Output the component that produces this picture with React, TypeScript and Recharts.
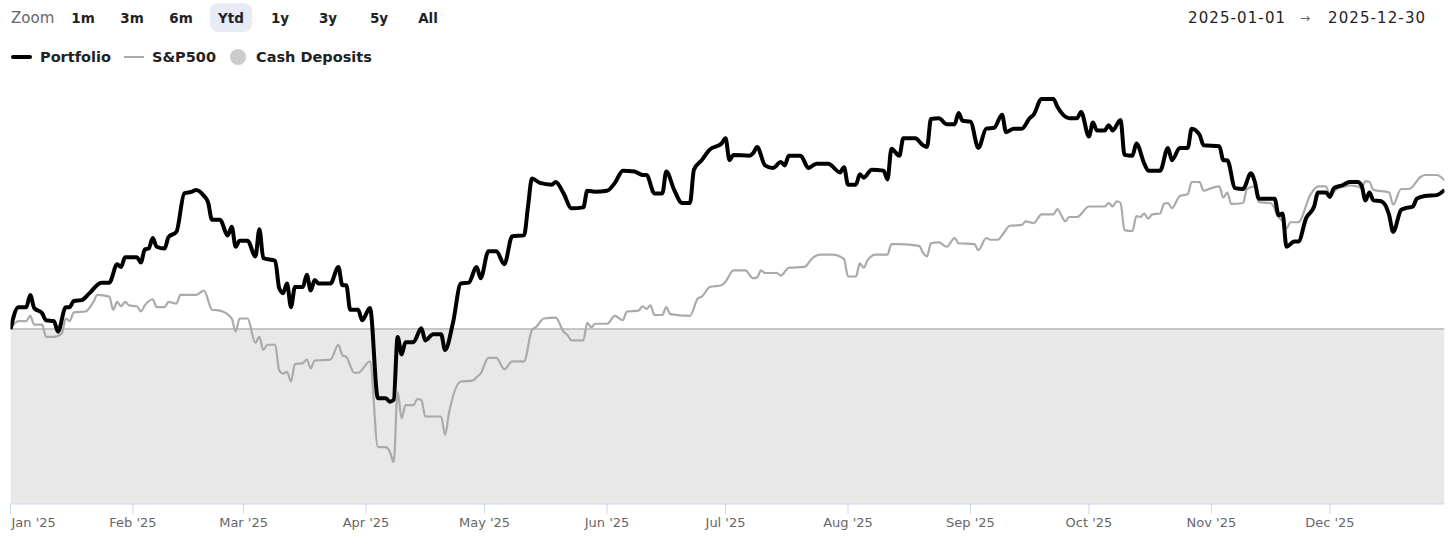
import React from "react";
import { Area, ComposedChart, Line, XAxis, YAxis } from "recharts";

// day of year (0 = Jan 1 2025) and cumulative return in %
const portfolioDays = [
  0, 2, 4, 5, 6, 8, 9, 11, 12, 14, 15, 16, 18, 20, 23, 25, 27, 28, 29, 32, 33, 34, 35, 36, 37, 39, 40, 42, 44, 46,
  47, 49, 50, 51, 53, 55, 56, 57, 58, 60, 62, 63, 64, 67, 68, 69, 70, 71, 72, 74, 75, 76, 77, 78, 81, 83, 84, 85, 86, 88,
  89, 91, 93, 95, 96, 97, 98, 99, 100, 102, 104, 105, 107, 109, 110, 112, 114, 116, 118, 119, 121, 123, 125, 127, 130, 131, 132, 134, 137, 138,
  140, 142, 145, 146, 148, 151, 153, 155, 158, 160, 161, 163, 165, 166, 168, 170, 172, 173, 175, 177, 180, 181, 182, 183, 187, 188, 189, 191, 193, 195,
  196, 197, 200, 202, 204, 207, 210, 211, 212, 214, 215, 216, 218, 221, 222, 223, 225, 226, 229, 231, 232, 233, 235, 237, 239, 240, 241, 243, 245, 247,
  249, 251, 252, 254, 256, 258, 259, 261, 264, 265, 268, 270, 271, 273, 274, 275, 277, 278, 279, 281, 282, 284, 285, 287, 288, 291, 293, 294, 296, 298,
  299, 301, 302, 306, 307, 308, 310, 312, 314, 315, 316, 320, 321, 322, 323, 325, 326, 328, 330, 331, 333, 334, 335, 337, 339, 341, 342, 343, 344, 345,
  347, 349, 350, 352, 353, 355, 356, 358, 361, 363,
];
const portfolioPct = [
  0.0, 2.5, 2.5, 3.9, 2.4, 1.8, 1.0, 0.9, -0.3, 2.5, 2.5, 3.2, 3.3, 4.1, 5.3, 5.3, 7.4, 7.1, 8.2, 8.2, 7.6, 9.1, 9.2, 10.4, 9.4, 9.2, 10.5, 11.1, 15.5, 15.7,
  15.9, 15.2, 14.5, 12.5, 12.5, 10.7, 11.7, 9.4, 10.1, 10.1, 8.3, 11.4, 8.1, 7.8, 4.7, 4.1, 5.2, 2.5, 4.8, 4.8, 6.2, 4.4, 5.6, 5.2, 5.2, 7.1, 5.0, 5.0, 2.2, 2.2,
  1.0, 2.4, -7.9, -7.9, -8.3, -8.1, -0.9, -2.9, -1.5, -1.5, 0.1, -1.3, -0.6, -0.6, -2.4, 0.7, 5.2, 5.3, 7.1, 5.8, 8.9, 8.9, 7.4, 10.6, 10.7, 14.0, 17.2, 16.7, 16.5, 16.8,
  15.5, 13.8, 13.9, 15.8, 15.7, 15.8, 16.7, 18.1, 18.0, 17.6, 17.6, 15.5, 15.5, 18.0, 15.9, 14.4, 14.4, 18.2, 19.3, 20.5, 21.2, 21.8, 19.3, 19.9, 19.8, 20.1, 20.8, 18.7, 18.4, 19.1,
  18.7, 19.8, 19.8, 18.4, 18.9, 18.9, 17.9, 18.5, 16.5, 16.5, 17.7, 17.3, 18.2, 18.1, 17.1, 20.6, 19.8, 21.8, 21.8, 21.0, 20.8, 24.0, 24.1, 23.4, 23.4, 24.7, 23.8, 23.7, 20.7, 22.9,
  23.0, 24.5, 22.5, 22.9, 22.9, 24.1, 24.5, 26.3, 26.3, 25.4, 24.1, 24.1, 24.8, 22.0, 23.6, 22.7, 22.7, 23.3, 22.7, 23.9, 19.9, 19.8, 21.2, 18.9, 18.1, 18.1, 20.7, 19.3, 20.7, 20.7,
  22.9, 22.2, 21.0, 20.9, 19.3, 19.3, 16.1, 16.0, 17.8, 16.8, 14.9, 14.9, 13.0, 13.2, 9.4, 10.0, 10.0, 12.7, 14.0, 15.6, 15.6, 15.1, 16.1, 16.4, 16.8, 16.8, 16.4, 14.7, 15.6, 14.7,
  14.6, 13.0, 11.1, 13.6, 13.8, 14.0, 14.9, 15.2, 15.3, 15.9,
];

const sp500Days = [
  0, 2, 4, 5, 6, 8, 9, 11, 13, 14, 15, 16, 19, 21, 22, 25, 26, 27, 28, 29, 30, 32, 33, 34, 36, 37, 39, 40, 42, 43,
  47, 49, 51, 53, 56, 57, 58, 60, 62, 63, 64, 65, 67, 68, 69, 70, 71, 72, 74, 75, 76, 77, 81, 83, 84, 85, 87, 88, 91, 93,
  95, 96, 97, 98, 99, 100, 102, 103, 104, 105, 109, 110, 111, 114, 117, 118, 119, 121, 123, 125, 127, 130, 132, 133, 135, 138, 140, 141, 142, 145,
  146, 147, 148, 151, 153, 155, 156, 159, 160, 161, 162, 163, 165, 166, 167, 172, 174, 175, 177, 180, 181, 183, 186, 188, 189, 190, 191, 194, 195, 197,
  201, 203, 205, 208, 211, 212, 214, 215, 216, 217, 219, 222, 223, 225, 230, 231, 232, 233, 235, 237, 239, 240, 244, 245, 247, 248, 250, 251, 253, 256,
  257, 259, 261, 264, 265, 266, 267, 268, 270, 273, 277, 278, 279, 280, 281, 282, 284, 285, 286, 287, 288, 289, 291, 292, 293, 294, 296, 298, 299, 301,
  302, 304, 306, 307, 308, 309, 312, 313, 315, 316, 319, 321, 322, 323, 324, 326, 329, 331, 333, 334, 336, 338, 339, 341, 342, 343, 344, 345, 349, 350,
  352, 354, 357, 358, 361, 363,
];
const sp500Pct = [
  0.0, 0.9, 0.9, 1.5, 0.5, 0.5, -0.9, -0.9, -0.5, 1.2, 0.9, 1.9, 2.0, 3.1, 3.9, 3.7, 2.2, 3.1, 2.6, 3.1, 2.7, 2.6, 2.0, 2.7, 3.4, 2.5, 2.5, 3.1, 2.9, 3.9,
  3.9, 4.4, 2.2, 2.1, 1.2, -0.3, 1.2, 1.2, -1.6, -0.9, -2.4, -1.8, -1.8, -4.7, -5.1, -4.9, -6.0, -4.0, -3.9, -3.5, -4.5, -3.6, -3.5, -1.8, -3.0, -3.2, -5.0, -5.0, -3.7, -13.5,
  -13.5, -14.0, -15.2, -7.2, -10.2, -8.7, -8.7, -8.0, -8.1, -10.0, -10.0, -12.1, -9.6, -6.0, -5.9, -5.5, -5.1, -3.3, -3.3, -4.6, -3.7, -3.7, -0.1, 0.2, 1.2, 1.3, -0.3, -0.7, -1.3, -1.3,
  0.7, 0.2, 0.6, 0.6, 1.5, 1.0, 2.0, 2.1, 2.6, 2.3, 2.7, 1.6, 1.6, 2.5, 1.7, 1.5, 3.5, 3.7, 4.8, 5.0, 5.4, 6.7, 6.7, 5.8, 5.9, 6.7, 6.4, 6.4, 6.1, 7.0,
  7.1, 8.1, 8.5, 8.5, 8.0, 6.0, 6.0, 7.5, 7.0, 7.9, 8.5, 8.5, 9.7, 9.7, 9.5, 8.7, 8.3, 9.8, 9.9, 9.4, 10.4, 9.8, 9.7, 9.0, 10.4, 10.2, 10.2, 10.7, 11.8, 11.9,
  12.3, 12.1, 13.1, 13.1, 13.7, 13.0, 12.3, 12.8, 12.8, 14.0, 14.0, 14.4, 14.0, 14.6, 14.4, 11.3, 11.2, 12.9, 12.8, 13.2, 12.6, 13.1, 13.2, 14.3, 14.4, 13.8, 15.2, 15.4, 16.8, 16.8,
  15.8, 16.1, 16.3, 15.0, 15.6, 14.3, 14.4, 16.0, 16.3, 14.5, 14.4, 12.8, 12.3, 11.5, 12.2, 12.2, 15.3, 16.3, 16.3, 15.3, 16.1, 16.3, 16.4, 16.3, 16.1, 16.9, 16.8, 15.9, 15.6, 14.2,
  16.0, 16.0, 17.4, 17.6, 17.6, 17.0,
];

const cashDays = [0, 363];
const cashPct = [0, 0];

const monthStartDays = [0, 31, 59, 90, 120, 151, 181, 212, 243, 273, 304, 334];
const monthLabels = ["Jan '25", "Feb '25", "Mar '25", "Apr '25", "May '25", "Jun '25", "Jul '25", "Aug '25", "Sep '25", "Oct '25", "Nov '25", "Dec '25"];

const zoomButtons = ["1m", "3m", "6m", "Ytd", "1y", "3y", "5y", "All"];
const zoomButtonCenters = [83, 132, 181, 231, 280, 328, 379, 428];
const activeZoom = "Ytd";

type Row = { day: number; portfolio?: number; sp500?: number; cash?: number };

const rowsByDay = new Map<number, Row>();
const rowFor = (day: number) => {
  if (!rowsByDay.has(day)) rowsByDay.set(day, { day });
  return rowsByDay.get(day)!;
};
portfolioDays.forEach((d, i) => (rowFor(d).portfolio = portfolioPct[i]));
sp500Days.forEach((d, i) => (rowFor(d).sp500 = sp500Pct[i]));
cashDays.forEach((d, i) => (rowFor(d).cash = cashPct[i]));
const data = Array.from(rowsByDay.values()).sort((a, b) => a.day - b.day);

const FONT = "'DejaVu Sans', sans-serif";

function MonthTick(props: any) {
  const { x, y, payload, index } = props;
  const first = index === 0;
  return (
    <text
      x={first ? x + 1 : x}
      y={y}
      dy="0.71em"
      textAnchor={first ? "start" : "middle"}
      fill="#666"
      fontSize={13}
      fontFamily={FONT}
    >
      {monthLabels[monthStartDays.indexOf(payload.value)]}
    </text>
  );
}

export default function App() {
  return (
    <div
      style={{
        position: "absolute",
        left: 0,
        top: 0,
        width: 1456,
        height: 548,
        background: "#fff",
        fontFamily: FONT,
      }}
    >
      {/* zoom buttons */}
      <div style={{ position: "absolute", left: 11, top: 8, lineHeight: "20px", fontSize: 15, color: "#666" }}>Zoom</div>
      {zoomButtons.map((b, i) => (
        <div
          key={b}
          style={{
            position: "absolute",
            left: zoomButtonCenters[i] - 21,
            top: 3,
            width: 42,
            height: 29,
            lineHeight: "30px",
            textAlign: "center",
            fontSize: 13.5,
            fontWeight: "bold",
            color: "#222",
            borderRadius: 8,
            background: b === activeZoom ? "#e6ebf5" : "transparent",
          }}
        >
          {b}
        </div>
      ))}

      {/* date range */}
      <div style={{ position: "absolute", left: 1188, top: 8, lineHeight: "20px", fontSize: 15, color: "#222", letterSpacing: 1.1 }}>
        2025-01-01
      </div>
      <div style={{ position: "absolute", left: 1300, top: 8, lineHeight: "20px", fontSize: 12, color: "#666" }}>→</div>
      <div style={{ position: "absolute", left: 1328, top: 8, lineHeight: "20px", fontSize: 15, color: "#222", letterSpacing: 1.1 }}>
        2025-12-30
      </div>

      {/* legend */}
      <div style={{ position: "absolute", left: 11, top: 55, width: 21, height: 4, borderRadius: 2, background: "#000" }} />
      <div style={{ position: "absolute", left: 40, top: 47, lineHeight: "20px", fontSize: 14.5, fontWeight: "bold", color: "#222" }}>
        Portfolio
      </div>
      <div style={{ position: "absolute", left: 124, top: 56, width: 20, height: 2, background: "#aaa" }} />
      <div style={{ position: "absolute", left: 152, top: 47, lineHeight: "20px", fontSize: 14.5, fontWeight: "bold", color: "#222" }}>
        S&amp;P500
      </div>
      <div style={{ position: "absolute", left: 230, top: 49, width: 16, height: 16, borderRadius: 8, background: "#ccc" }} />
      <div style={{ position: "absolute", left: 256, top: 47, lineHeight: "20px", fontSize: 14.5, fontWeight: "bold", color: "#222" }}>
        Cash Deposits
      </div>

      <div style={{ position: "absolute", left: 0, top: 0 }}>
        <ComposedChart width={1456} height={548} data={data} margin={{ top: 84, right: 11.5, bottom: 14, left: 10.5 }}>
          <XAxis
            dataKey="day"
            type="number"
            domain={[0, 363]}
            ticks={monthStartDays}
            interval={0}
            height={30}
            stroke="#ccd6eb"
            tickSize={10}
            tickMargin={4}
            tick={<MonthTick />}
            allowDataOverflow
          />
          <YAxis hide type="number" domain={[-20, 28]} allowDataOverflow />
          <Area
            dataKey="cash"
            type="linear"
            baseValue="dataMin"
            fill="#e8e8e8"
            fillOpacity={1}
            stroke="#c6c6c6"
            strokeWidth={2}
            connectNulls
            dot={false}
            activeDot={false}
            isAnimationActive={false}
          />
          <Line
            dataKey="sp500"
            type="monotone"
            stroke="#aaaaaa"
            strokeWidth={2.2}
            connectNulls
            dot={false}
            activeDot={false}
            isAnimationActive={false}
          />
          <Line
            dataKey="portfolio"
            type="monotone"
            stroke="#000"
            strokeWidth={4}
            strokeLinejoin="round"
            connectNulls
            dot={false}
            activeDot={false}
            isAnimationActive={false}
          />
        </ComposedChart>
      </div>
    </div>
  );
}
